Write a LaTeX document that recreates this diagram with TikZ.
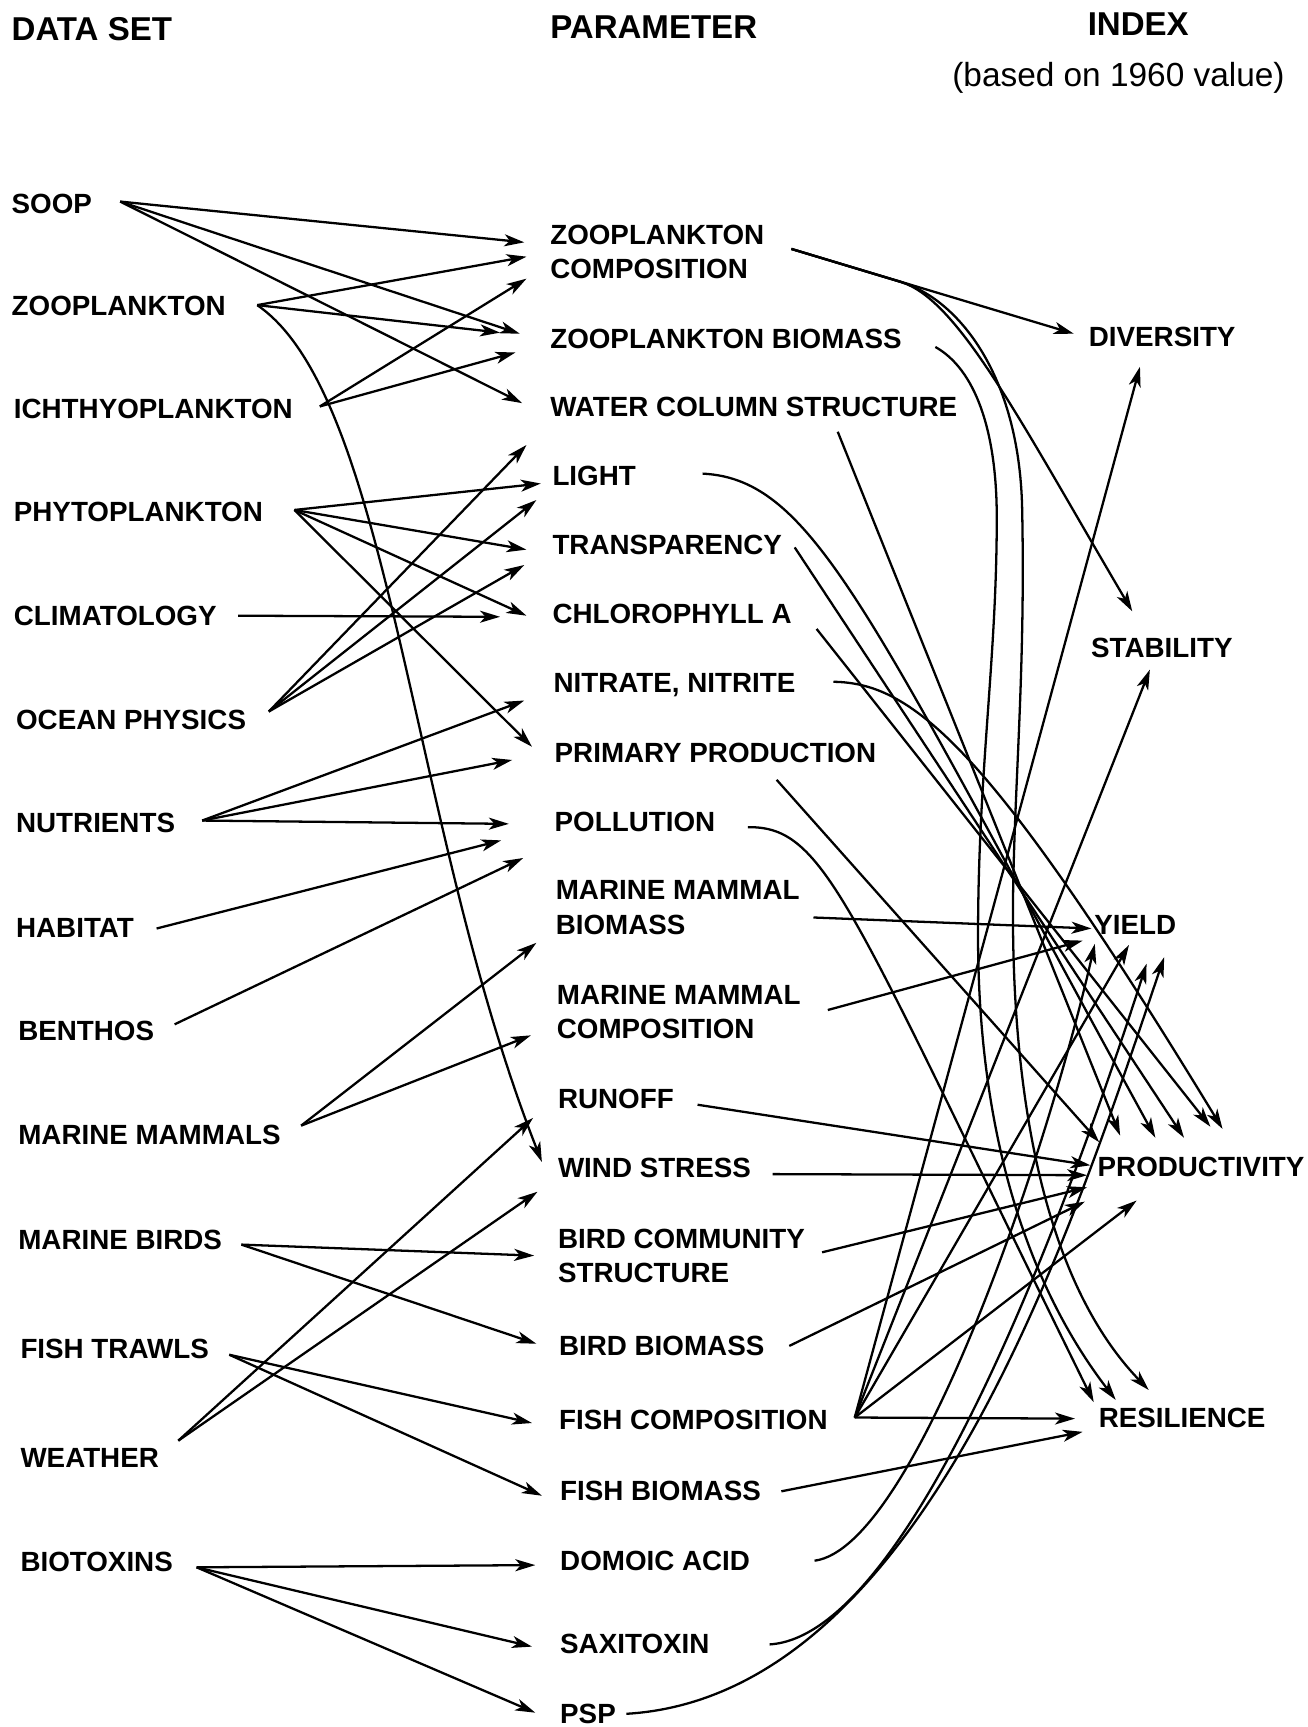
\documentclass[tikz,border=0pt]{standalone}
\usepackage{fontspec}
\setmainfont{Liberation Sans}
\usetikzlibrary{
    arrows.meta,
    positioning
}
\newcommand{\lblfont}{\fontsize{7.9}{9.7}\selectfont\bfseries}
\newcommand{\hdfont}{\fontsize{9.4}{11}\selectfont\bfseries}
\tikzset{
  lbl/.style    = {anchor=west, inner sep=0pt, font=\lblfont,
                   text height=5.66pt, text depth=0pt},
  lbltwo/.style = {anchor=west, inner sep=0pt, font=\lblfont, align=left},
  head/.style   = {anchor=west, inner sep=0pt, font=\hdfont},
  arr/.style    = {-{Stealth[length=2mm, width=1.2mm, inset=0.55mm]},
                   line width=0.65pt}
}

\begin{document}
\begin{tikzpicture}[x=0.11011mm, y=-0.11011mm]
\useasboundingbox (0,0) rectangle (1187,1568);

% --- HEADERS ---
\node[head] (hdata) at (10,26) {DATA SET};
\node[head] (hparam) at (499,25) {PARAMETER};
\node[head] (hindex) at (987,22) {INDEX};
\node[anchor=west, inner sep=0pt, font=\fontsize{9.5}{11}\selectfont] (hbase) at (864,71) {(based on 1960 value)};

% --- DATA SETS ---
\node[lbl] (soop) at (10,185) {SOOP};
\node[lbl] (zoo) at (10,277) {ZOOPLANKTON};
\node[lbl] (ichthyo) at (12,371) {ICHTHYOPLANKTON};
\node[lbl] (phyto) at (12,464) {PHYTOPLANKTON};
\node[lbl] (clim) at (12,559) {CLIMATOLOGY};
\node[lbl] (ocean) at (14,653) {OCEAN PHYSICS};
\node[lbl] (nutr) at (14,747) {NUTRIENTS};
\node[lbl] (habitat) at (14,842) {HABITAT};
\node[lbl] (benthos) at (16,936) {BENTHOS};
\node[lbl] (mammals) at (16,1030) {MARINE MAMMALS};
\node[lbl] (birds) at (16,1125) {MARINE BIRDS};
\node[lbl] (trawls) at (18,1224) {FISH TRAWLS};
\node[lbl] (weather) at (18,1323) {WEATHER};
\node[lbl] (biotox) at (18,1418) {BIOTOXINS};

% --- PARAMETERS ---
\node[lbltwo] (zc) at (499,229) {ZOOPLANKTON\\COMPOSITION};
\node[lbl] (zb) at (499,307) {ZOOPLANKTON BIOMASS};
\node[lbl] (wcs) at (499,369) {WATER COLUMN STRUCTURE};
\node[lbl] (light) at (501,432) {LIGHT};
\node[lbl] (transp) at (501,494) {TRANSPARENCY};
\node[lbl] (chl) at (501,557) {CHLOROPHYLL A};
\node[lbl] (nitr) at (502,620) {NITRATE, NITRITE};
\node[lbl] (pp) at (503,683) {PRIMARY PRODUCTION};
\node[lbl] (poll) at (503,746) {POLLUTION};
\node[lbltwo] (mmb) at (504,824) {MARINE MAMMAL\\BIOMASS};
\node[lbltwo] (mmc) at (505,919) {MARINE MAMMAL\\COMPOSITION};
\node[lbl] (runoff) at (506,997) {RUNOFF};
\node[lbl] (wind) at (506,1060) {WIND STRESS};
\node[lbltwo] (bcs) at (506,1140) {BIRD COMMUNITY\\STRUCTURE};
\node[lbl] (bb) at (507,1222) {BIRD BIOMASS};
\node[lbl] (fc) at (507,1289) {FISH COMPOSITION};
\node[lbl] (fb) at (508,1353) {FISH BIOMASS};
\node[lbl] (da) at (508,1417) {DOMOIC ACID};
\node[lbl] (sax) at (508,1492) {SAXITOXIN};
\node[lbl] (psp) at (508,1556) {PSP};

% --- INDICES ---
\node[lbl] (div) at (988,306) {DIVERSITY};
\node[lbl] (stab) at (990,588) {STABILITY};
\node[lbl] (yield) at (993,839) {YIELD};
\node[lbl] (prod) at (996,1059) {PRODUCTIVITY};
\node[lbl] (res) at (997,1287) {RESILIENCE};

% --- DATA SET TO PARAMETER ---
\draw[arr] ([shift={(25,-2)}]soop.east) -- ([shift={(-23,-9)}]zc.west);
\draw[arr] ([shift={(25,-2)}]soop.east) -- ([shift={(-27,-4)}]zb.west);
\draw[arr] ([shift={(25,-2)}]soop.east) -- ([shift={(-25,-3)}]wcs.west);

\draw[arr] ([shift={(28,0)}]zoo.east) -- ([shift={(-21,4)}]zc.west);
\draw[arr] ([shift={(28,0)}]zoo.east) -- ([shift={(-45,-5)}]zb.west);
\draw[arr] ([shift={(28,0)}]zoo.east) .. controls (355,360) and (372,750) .. ([shift={(-14,-5)}]wind.west);

\draw[arr] ([shift={(24,-2)}]ichthyo.east) -- ([shift={(-21,24)}]zc.west);
\draw[arr] ([shift={(24,-2)}]ichthyo.east) -- ([shift={(-31,13)}]zb.west);

\draw[arr] ([shift={(28,-1)}]phyto.east) -- ([shift={(-10,7)}]light.west);
\draw[arr] ([shift={(28,-1)}]phyto.east) -- ([shift={(-23,5)}]transp.west);
\draw[arr] ([shift={(28,-1)}]phyto.east) -- ([shift={(-23,2)}]chl.west);
\draw[arr] ([shift={(28,-1)}]phyto.east) -- ([shift={(-20,-5)}]pp.west);

\draw[arr] ([shift={(19,0)}]clim.east) -- ([shift={(-47,3)}]chl.west);

\draw[arr] ([shift={(20,-7)}]ocean.east) -- ([shift={(-21,35)}]wcs.west);
\draw[arr] ([shift={(20,-7)}]ocean.east) -- ([shift={(-14,22)}]light.west);
\draw[arr] ([shift={(20,-7)}]ocean.east) -- ([shift={(-25,19)}]transp.west);

\draw[arr] ([shift={(24,-2)}]nutr.east) -- ([shift={(-26,16)}]nitr.west);
\draw[arr] ([shift={(24,-2)}]nutr.east) -- ([shift={(-38,7)}]pp.west);
\draw[arr] ([shift={(24,-2)}]nutr.east) -- ([shift={(-41,2)}]poll.west);

\draw[arr] ([shift={(20,1)}]habitat.east) -- ([shift={(-48,17)}]poll.west);
\draw[arr] ([shift={(18,-6)}]benthos.east) -- ([shift={(-28,33)}]poll.west);

\draw[arr] ([shift={(18,-8)}]mammals.east) -- ([shift={(-17,32)}]mmb.west);
\draw[arr] ([shift={(18,-8)}]mammals.east) -- ([shift={(-23,21)}]mmc.west);

\draw[arr] ([shift={(17,5)}]birds.east) -- ([shift={(-21,0)}]bcs.west);
\draw[arr] ([shift={(17,5)}]birds.east) -- ([shift={(-20,-2)}]bb.west);

\draw[arr] ([shift={(18,6)}]trawls.east) -- ([shift={(-24,3)}]fc.west);
\draw[arr] ([shift={(18,6)}]trawls.east) -- ([shift={(-16,5)}]fb.west);

\draw[arr] ([shift={(17,-15)}]weather.east) -- ([shift={(-22,18)}]runoff.west);
\draw[arr] ([shift={(17,-15)}]weather.east) -- ([shift={(-18,22)}]wind.west);

\draw[arr] ([shift={(21,5)}]biotox.east) -- ([shift={(-22,4)}]da.west);
\draw[arr] ([shift={(21,5)}]biotox.east) -- ([shift={(-25,3)}]sax.west);
\draw[arr] ([shift={(21,5)}]biotox.east) -- ([shift={(-22,-1)}]psp.west);

% --- PARAMETER TO INDEX ---
\draw[arr] ([shift={(24,-3)}]zc.east) -- ([shift={(-13,-3)}]div.west);
\draw[arr] ([shift={(24,-3)}]zc.east) -- (818,256) .. controls (870,272) and (925,380) .. ([shift={(38,-33)}]stab.west);
\draw[arr] ([shift={(24,-3)}]zc.east) -- (818,256) .. controls (870,272) and (925,340) .. (928,460)
    .. controls (931,600) and (922,700) .. (920,800)
    .. controls (917,950) and (935,1150) .. ([shift={(46,-25)}]res.west);

\draw[arr] ([shift={(30,8)}]zb.east) .. controls (885,335) and (905,390) .. (905,470)
    .. controls (905,600) and (888,700) .. (888,850)
    .. controls (888,1000) and (920,1150) .. ([shift={(16,-16)}]res.west);

\draw[arr] ([shift={(-109,23)}]wcs.east) -- ([shift={(21,-28)}]prod.west);
\draw[arr] ([shift={(60,-2)}]light.east) .. controls (740,435) and (790,560) .. ([shift={(53,-26)}]prod.west);
\draw[arr] ([shift={(11,3)}]transp.east) -- ([shift={(79,-26)}]prod.west);
\draw[arr] ([shift={(22,14)}]chl.east) -- ([shift={(103,-36)}]prod.west);
\draw[arr] ([shift={(34,-1)}]nitr.east) .. controls (830,620) and (900,680) .. ([shift={(114,-34)}]prod.west);
\draw[arr] ([shift={(-91,25)}]pp.east) -- ([shift={(2,-22)}]prod.west);
\draw[arr] ([shift={(29,5)}]poll.east) .. controls (750,750) and (770,820) .. ([shift={(-4,-14)}]res.west);

\draw[arr] ([shift={(12,9)}]mmb.east) -- ([shift={(-2,4)}]yield.west);
\draw[arr] ([shift={(24,-2)}]mmc.east) -- ([shift={(-10,15)}]yield.west);

\draw[arr] ([shift={(21,6)}]runoff.east) -- ([shift={(-6,-1)}]prod.west);
\draw[arr] ([shift={(19,6)}]wind.east) -- ([shift={(-9,8)}]prod.west);
\draw[arr] ([shift={(15,-3)}]bcs.east) -- ([shift={(-9,19)}]prod.west);
\draw[arr] ([shift={(22,0)}]bb.east) -- ([shift={(-11,32)}]prod.west);

\draw[arr] ([shift={(24,-2)}]fc.east) -- ([shift={(47,27)}]div.west);
\draw[arr] ([shift={(24,-2)}]fc.east) -- ([shift={(54,20)}]stab.west);
\draw[arr] ([shift={(24,-2)}]fc.east) -- ([shift={(32,19)}]yield.west);
\draw[arr] ([shift={(24,-2)}]fc.east) -- ([shift={(36,31)}]prod.west);
\draw[arr] ([shift={(24,-2)}]fc.east) -- ([shift={(-21,1)}]res.west);

\draw[arr] ([shift={(18,1)}]fb.east) -- ([shift={(-14,13)}]res.west);

\draw[arr] ([shift={(58,0)}]da.east) .. controls (830,1405) and (950,1050) .. ([shift={(1,18)}]yield.west);
\draw[arr] ([shift={(54,1)}]sax.east) .. controls (830,1485) and (975,1080) .. ([shift={(48,36)}]yield.west);
\draw[arr] ([shift={(9,0)}]psp.east) .. controls (840,1540) and (975,1110) .. ([shift={(64,30)}]yield.west);
\end{tikzpicture}
\end{document}
